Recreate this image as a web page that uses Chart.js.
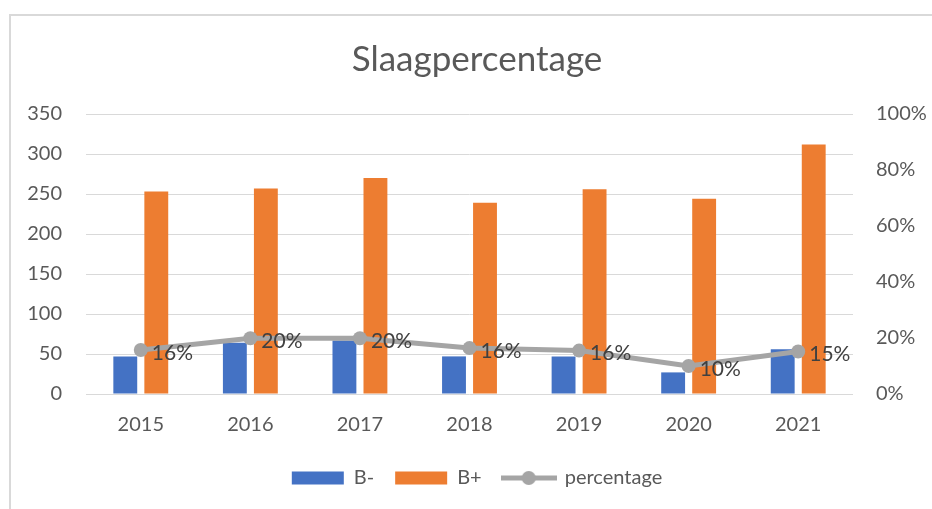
<!DOCTYPE html>
<html>
<head>
<meta charset="utf-8">
<script src="https://cdn.jsdelivr.net/npm/chart.js@4"></script>
<style>
  html, body { margin: 0; padding: 0; background: #fff; overflow: hidden; }
  .frame {
    position: absolute; left: 9px; top: 14px; width: 940px; height: 520px;
    border: 2px solid #d9d9d9; box-sizing: border-box;
  }
  .wrap { position: absolute; left: 0; top: 0; width: 932px; height: 509px; }
</style>
</head>
<body>
<div class="frame"></div>
<div class="wrap"><canvas id="myChart"></canvas></div>
<script>
// jaren en waarden
const years = ['2015', '2016', '2017', '2018', '2019', '2020', '2021'];
const bMin = [47, 64, 67, 47, 47, 27, 56];
const bPlus = [253, 257, 270, 239, 256, 244, 312];
const percentage = [0.157, 0.199, 0.199, 0.164, 0.155, 0.10, 0.152];

Chart.defaults.font.family = 'Lato, "Open Sans", sans-serif';
Chart.defaults.color = '#595959';

// legend icoon voor de lijn (lijn met bolletje)
const lineIcon = document.createElement('canvas');
lineIcon.width = 56;
lineIcon.height = 16;
(function () {
    const c = lineIcon.getContext('2d');
    c.strokeStyle = '#A5A5A5';
    c.lineWidth = 5;
    c.beginPath();
    c.moveTo(0, 8);
    c.lineTo(56, 8);
    c.stroke();
    c.fillStyle = '#A5A5A5';
    c.beginPath();
    c.arc(28, 8, 7, 0, Math.PI * 2);
    c.fill();
})();

// eigen labels bij de punten van de lijn
const pctLabels = {
    id: 'pctLabels',
    afterDatasetsDraw(chart) {
        const meta = chart.getDatasetMeta(2);
        const ctx = chart.ctx;
        ctx.save();
        ctx.font = '21px Lato, "Open Sans", sans-serif';
        ctx.fillStyle = '#404040';
        ctx.textAlign = 'left';
        ctx.textBaseline = 'middle';
        meta.data.forEach((pt, i) => {
            ctx.fillText(Math.round(percentage[i] * 100) + '%', pt.x + 11, pt.y + 3);
        });
        ctx.restore();
    }
};

const ctx = document.getElementById('myChart').getContext('2d');
new Chart(ctx, {
    type: 'bar',
    data: {
        labels: years,
        datasets: [
            {
                label: 'B-',
                data: bMin,
                backgroundColor: '#4472C4',
                borderWidth: 0,
                categoryPercentage: 0.566,
                barPercentage: 0.77,
                yAxisID: 'y',
                order: 1
            },
            {
                label: 'B+',
                data: bPlus,
                backgroundColor: '#ED7D31',
                borderWidth: 0,
                categoryPercentage: 0.566,
                barPercentage: 0.77,
                yAxisID: 'y',
                order: 1
            },
            {
                type: 'line',
                label: 'percentage',
                data: percentage,
                borderColor: '#A5A5A5',
                backgroundColor: '#A5A5A5',
                borderWidth: 5,
                pointRadius: 7,
                pointBackgroundColor: '#A5A5A5',
                pointBorderWidth: 0,
                yAxisID: 'y1',
                order: 0
            }
        ]
    },
    plugins: [pctLabels],
    options: {
        responsive: true,
        maintainAspectRatio: false,
        animation: false,
        layout: { padding: { left: 22, right: 0, top: 0, bottom: 11 } },
        scales: {
            x: {
                grid: { display: false, drawTicks: false },
                border: { display: false },
                ticks: { font: { size: 20 }, padding: 19 },
                afterFit(scale) { scale.height = 53; }
            },
            y: {
                position: 'left',
                min: 0,
                max: 350,
                ticks: { stepSize: 50, font: { size: 20 }, padding: 24 },
                grid: { color: '#d9d9d9', lineWidth: 1, drawTicks: false },
                border: { display: false },
                afterFit(scale) { scale.width = 64; }
            },
            y1: {
                position: 'right',
                min: 0,
                max: 1,
                ticks: {
                    stepSize: 0.2,
                    font: { size: 20 },
                    padding: 23,
                    callback: v => Math.round(v * 100) + '%'
                },
                grid: { display: false, drawTicks: false },
                border: { display: false },
                afterFit(scale) { scale.width = 79; }
            }
        },
        plugins: {
            title: {
                display: true,
                text: 'Slaagpercentage',
                color: '#595959',
                font: { size: 35, weight: 'normal' },
                padding: { top: 39, bottom: 33 }
            },
            legend: {
                position: 'bottom',
                labels: {
                    usePointStyle: true,
                    pointStyleWidth: 52,
                    boxWidth: 52,
                    boxHeight: 13,
                    padding: 21,
                    color: '#595959',
                    font: { size: 20 },
                    sort: (a, b) => a.datasetIndex - b.datasetIndex,
                    generateLabels(chart) {
                        const items = Chart.defaults.plugins.legend.labels.generateLabels(chart);
                        items.forEach(it => {
                            it.pointStyle = it.datasetIndex === 2 ? lineIcon : 'rect';
                            it.lineWidth = 0;
                        });
                        return items;
                    }
                }
            },
            tooltip: { enabled: false }
        }
    }
});
</script>
</body>
</html>
